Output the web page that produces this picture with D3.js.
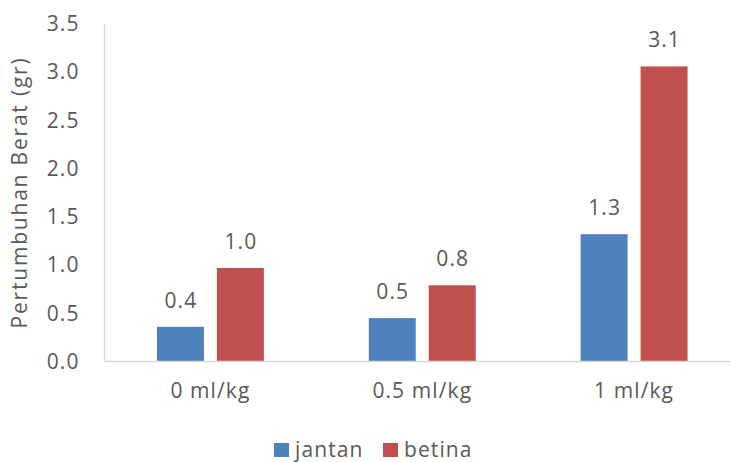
<!DOCTYPE html>
<html>
<head>
<meta charset="utf-8">
<script src="https://cdn.jsdelivr.net/npm/d3@7"></script>
<style>
  html, body { margin: 0; padding: 0; background: #fff; }
  svg { display: block; }
  text { font-family: "Open Sans", "Noto Sans", sans-serif; fill: #595959; }
</style>
</head>
<body>
<svg id="chart" width="730" height="462"></svg>
<script>
const categories = ["0 ml/kg", "0.5 ml/kg", "1 ml/kg"];
const seriesNames = ["jantan", "betina"];
const jantan = [0.36, 0.45, 1.32];
const betina = [0.97, 0.79, 3.06];
const yTicks = [0, 0.5, 1.0, 1.5, 2.0, 2.5, 3.0, 3.5];
const colors = ["#4F81BD", "#C0504D"];
const yTitle = "Pertumbuhan Berat (gr)";

(function () {
const seriesValues = [jantan, betina];
const svg = d3.select("#chart");
const W = 730, H = 462;
const mLeft = 104.5, mRight = 740, mTop = 24, mBottom = 361.5;
const FS = "21px", LS = "1.1px";

const x0 = d3.scaleBand().domain(categories).range([mLeft, mRight]).padding(0);
const x1 = d3.scaleBand().domain(seriesNames).range([0, x0.bandwidth()])
  .paddingInner(0.217).paddingOuter(0.875);
const y = d3.scaleLinear().domain([0, 3.5]).range([mBottom, mTop]);
const color = d3.scaleOrdinal().domain(seriesNames).range(colors);
const fmt = d3.format(".1f");

const data = [];
categories.forEach((c, i) => {
  seriesNames.forEach((s, j) => {
    data.push({ cat: c, series: s, value: seriesValues[j][i] });
  });
});

// bars
svg.append("g").selectAll("rect").data(data).join("rect")
  .attr("x", d => x0(d.cat) + x1(d.series))
  .attr("y", d => y(d.value))
  .attr("width", x1.bandwidth())
  .attr("height", d => y(0) - y(d.value))
  .attr("fill", d => color(d.series));

// value labels
svg.append("g").selectAll("text").data(data).join("text")
  .attr("x", d => x0(d.cat) + x1(d.series) + x1.bandwidth() / 2 + 0.5)
  .attr("y", d => y(d.value) - 19)
  .attr("text-anchor", "middle")
  .style("font-size", FS).style("letter-spacing", LS)
  .text(d => fmt(d.value));

// axes lines
svg.append("line").attr("x1", mLeft).attr("x2", W).attr("y1", y(0)).attr("y2", y(0))
  .attr("stroke", "#D9D9D9").attr("stroke-width", 1.3);
svg.append("line").attr("x1", mLeft).attr("x2", mLeft).attr("y1", y(0)).attr("y2", y(3.5))
  .attr("stroke", "#D9D9D9").attr("stroke-width", 1.3);

// y tick labels
const yAxis = d3.axisLeft(y).tickValues(yTicks).tickFormat(fmt).tickSize(0).tickPadding(25);
const gy = svg.append("g").attr("transform", `translate(${mLeft},0)`).call(yAxis);
gy.select(".domain").remove();
gy.selectAll("text").style("font-size", FS).style("letter-spacing", LS).attr("fill", "#595959")
  .style("font-family", "'Open Sans', sans-serif");

// x tick labels
const xAxis = d3.axisBottom(x0).tickSize(0).tickPadding(22);
const gx = svg.append("g").attr("transform", `translate(0,${mBottom})`).call(xAxis);
gx.select(".domain").remove();
gx.selectAll("text").style("font-size", FS).style("letter-spacing", LS).attr("fill", "#595959")
  .style("font-family", "'Open Sans', sans-serif");

// y title
svg.append("text")
  .attr("transform", `translate(27,${(57 + 328) / 2}) rotate(-90)`)
  .attr("text-anchor", "middle")
  .style("font-size", FS)
  .style("letter-spacing", "1.8px")
  .text(yTitle);

// legend
const legendItems = [{ name: "jantan", x: 274 }, { name: "betina", x: 383 }];
const lg = svg.append("g");
legendItems.forEach(it => {
  lg.append("rect").attr("x", it.x).attr("y", 443).attr("width", 15).attr("height", 14)
    .attr("fill", color(it.name));
  lg.append("text").attr("x", it.x + 21).attr("y", 457)
    .style("font-size", FS).style("letter-spacing", LS).text(it.name);
});
})();
</script>
</body>
</html>
